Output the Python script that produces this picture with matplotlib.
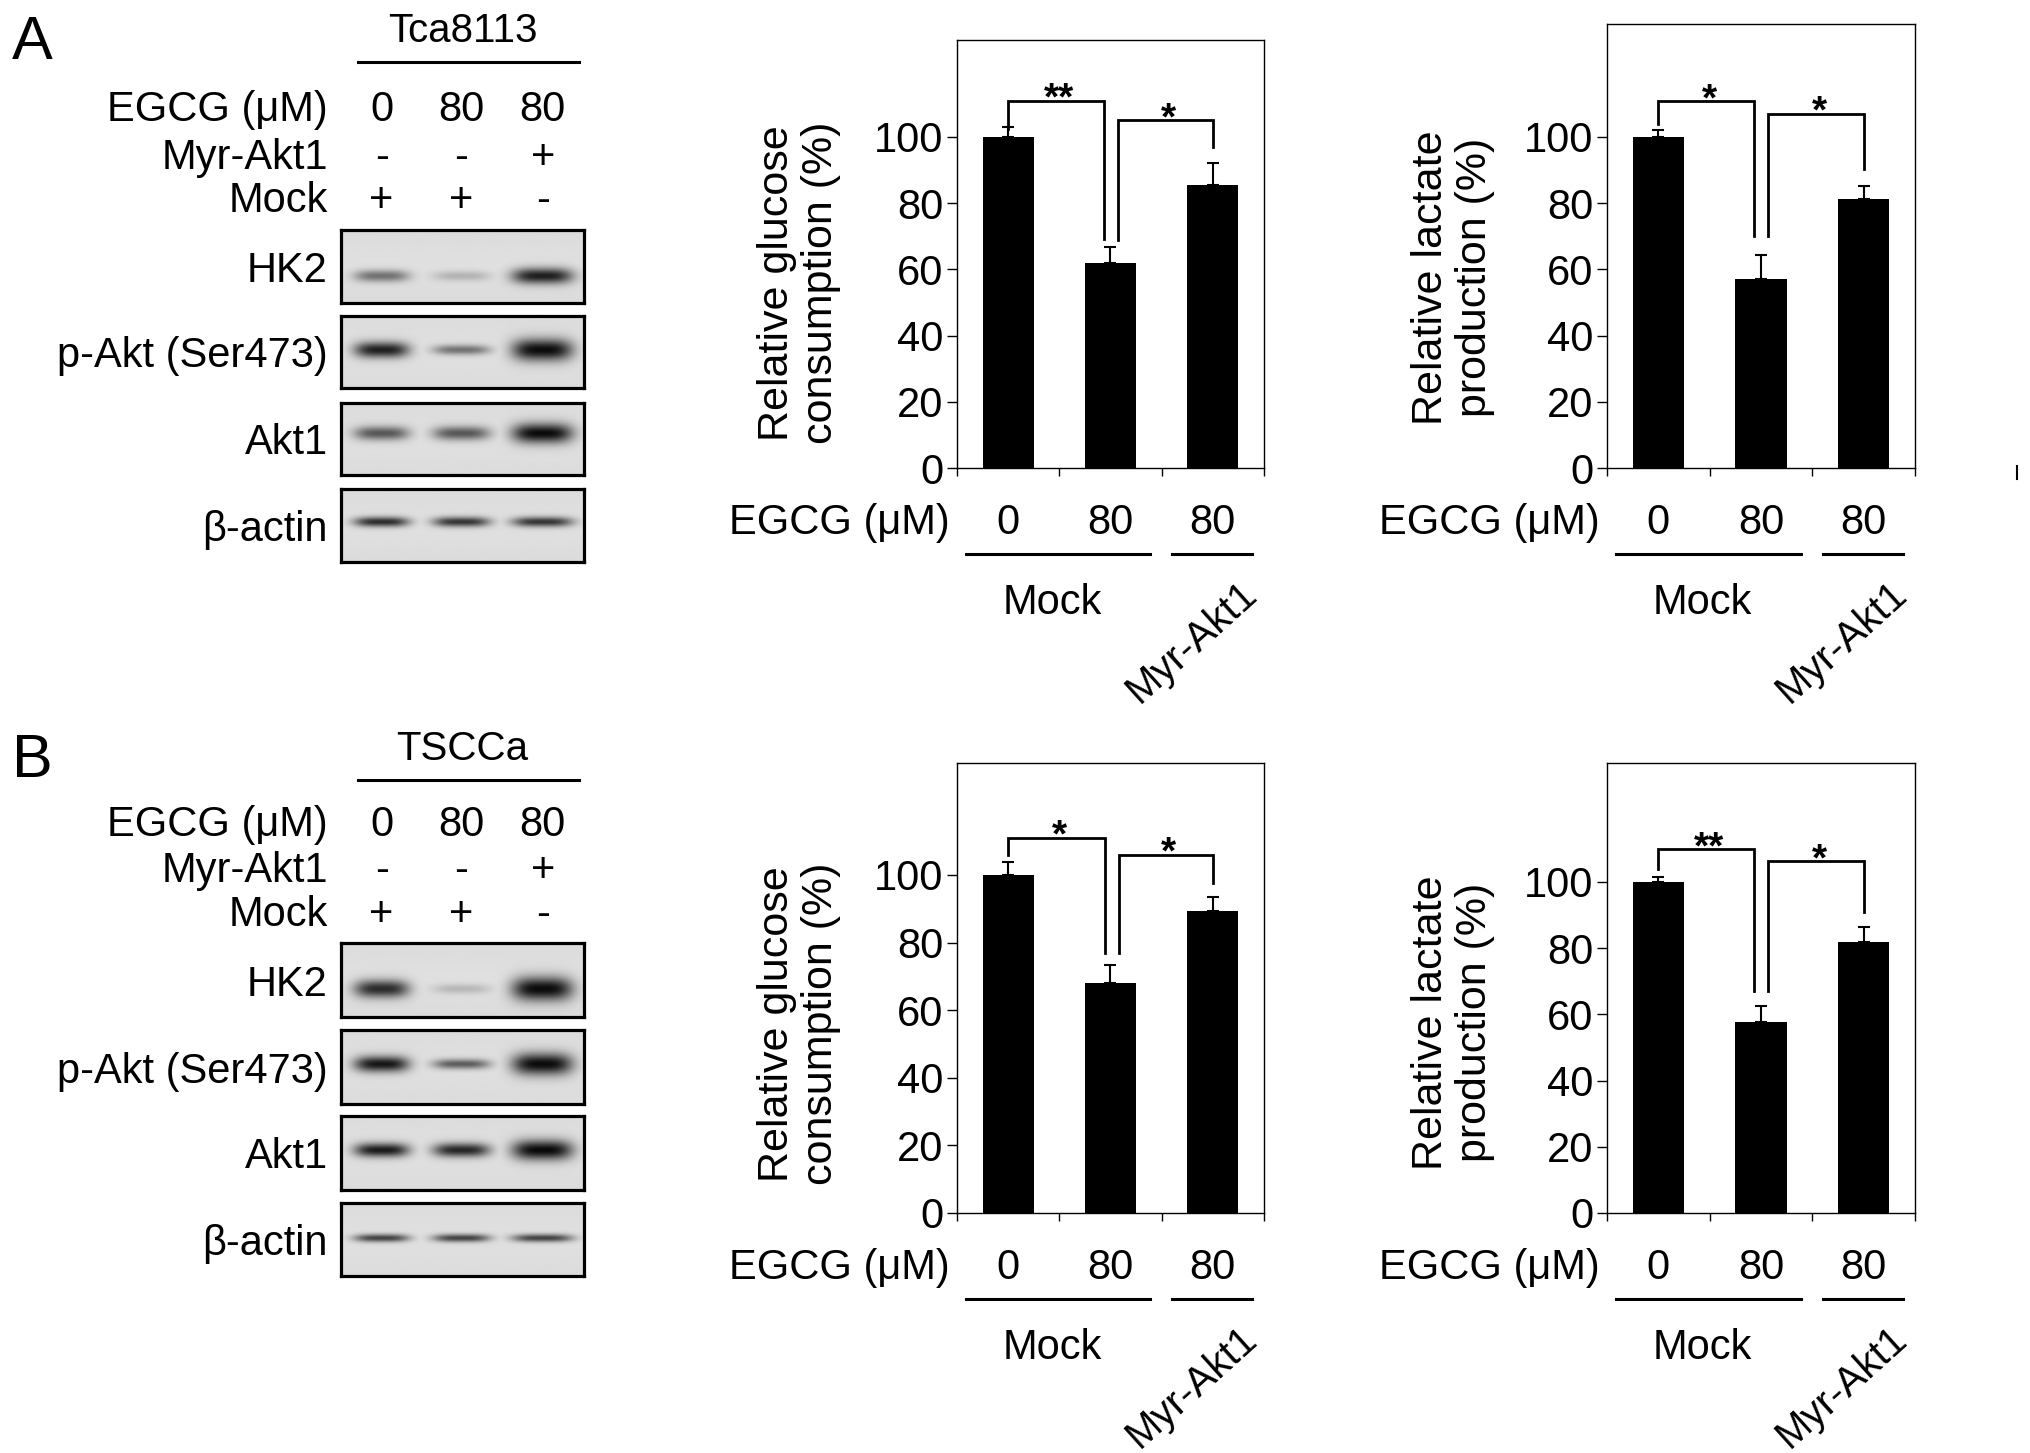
import numpy as np
import matplotlib
matplotlib.use("Agg")
import matplotlib.pyplot as plt
from matplotlib import transforms
from matplotlib.lines import Line2D

plt.rcParams['font.family'] = ['Liberation Sans', 'DejaVu Sans']
plt.rcParams['mathtext.default'] = 'regular'

W, H = 2031, 1453
fig = plt.figure(figsize=(W / 100, H / 100), dpi=100)
FS = 30

# ---------------- data ----------------
egcg_labels = ["0", "80", "80"]
group_labels = ["Mock", "Myr-Akt1"]
myr_row = ["-", "-", "+"]
mock_row = ["+", "+", "-"]
proteins = ["HK2", "p-Akt (Ser473)", "Akt1", "β-actin"]

glucose_A = [100.0, 62.0, 85.5]
glucose_A_err = [2.9, 4.8, 6.6]
lactate_A = [100.0, 57.2, 81.2]
lactate_A_err = [2.1, 7.1, 4.0]
glucose_B = [100.0, 67.9, 89.3]
glucose_B_err = [3.7, 5.5, 4.1]
lactate_B = [100.0, 57.7, 82.0]
lactate_B_err = [1.6, 4.9, 4.4]

# significance brackets: (x_left, x_right, y_top, y_left_end, y_right_end, label)
sig_glucose_A = [(0.0, 0.94, 111.0, 102.5, 69.3, "**"), (1.07, 2.0, 105.0, 69.0, 97.0, "*")]
sig_lactate_A = [(0.0, 0.93, 110.8, 104.0, 70.0, "*"), (1.07, 2.0, 107.0, 70.0, 90.3, "*")]
sig_glucose_B = [(0.0, 0.95, 111.0, 105.8, 77.0, "*"), (1.08, 2.0, 106.0, 77.0, 97.7, "*")]
sig_lactate_B = [(0.0, 0.93, 109.9, 104.0, 67.0, "**"), (1.07, 2.0, 106.2, 67.0, 91.0, "*")]

# western blot band intensities (0 = none, 1 = saturated), lanes 1..3
bands_A = {
    "HK2": [0.5, 0.2, 0.88],
    "p-Akt (Ser473)": [0.88, 0.5, 0.97],
    "Akt1": [0.62, 0.62, 0.97],
    "β-actin": [0.82, 0.78, 0.78],
}
bands_B = {
    "HK2": [0.82, 0.18, 0.97],
    "p-Akt (Ser473)": [0.92, 0.6, 0.97],
    "Akt1": [0.9, 0.85, 0.98],
    "β-actin": [0.72, 0.72, 0.72],
}
band_thick_A = {"HK2": [6, 5, 8], "p-Akt (Ser473)": [8, 5, 11], "Akt1": [7, 7, 10], "β-actin": [5, 5, 5]}
band_thick_B = {"HK2": [9, 5, 12], "p-Akt (Ser473)": [8, 5, 11], "Akt1": [7, 7, 10], "β-actin": [4, 4, 4]}
band_row_A = {"HK2": 0.63, "p-Akt (Ser473)": 0.47, "Akt1": 0.42, "β-actin": 0.45}
band_row_B = {"HK2": 0.62, "p-Akt (Ser473)": 0.46, "Akt1": 0.46, "β-actin": 0.48}
lane_centers = [0.167, 0.496, 0.83]
lane_halfwidth = [0.113, 0.117, 0.125]


def fy(y):
    return 1 - y / H


def off(dx_px, dy_px, base):
    return base + transforms.ScaledTranslation(dx_px / 100, -dy_px / 100, fig.dpi_scale_trans)


# ---------------- bar charts ----------------
def chart(left, right, y0, ppu, ytop, vals, errs, ylabel, sigs, ylab_y, ylab_dx):
    top = y0 - ytop * ppu
    ax = fig.add_axes([left / W, 1 - y0 / H, (right - left) / W, (y0 - top) / H])
    x = np.arange(len(vals))
    ax.bar(x, vals, width=0.5, color="black", zorder=2)
    ax.errorbar(x, vals, yerr=[np.zeros(len(vals)), errs], fmt="none", ecolor="black",
                elinewidth=1.5, capsize=4, capthick=1.5, zorder=3)
    ax.set_xlim(-0.5, 2.5)
    ax.set_ylim(0, ytop)
    ax.set_yticks(range(0, 101, 20))
    ax.set_xticks([-0.5, 0.5, 1.5, 2.5])
    ax.set_xticklabels([])
    ax.tick_params(axis="y", direction="out", length=7, width=1.0, labelsize=FS, pad=3)
    ax.tick_params(axis="x", direction="out", length=6, width=1.0)
    for s in ax.spines.values():
        s.set_linewidth(1.0)

    bt = transforms.blended_transform_factory(ax.transData, ax.transAxes)
    for i, lab in enumerate(egcg_labels):
        ax.text(i, 0, lab, transform=off(0, 66, bt), ha="center", va="baseline", fontsize=FS)
    ax.text(0, 0, "EGCG (μM)", transform=off(-7, 66, ax.transAxes), ha="right",
            va="baseline", fontsize=FS)
    ax.add_line(Line2D([-0.41, 1.39], [0, 0], transform=off(0, 86, bt), color="black",
                       lw=2.2, clip_on=False))
    ax.add_line(Line2D([1.6, 2.38], [0, 0], transform=off(0, 86, bt), color="black",
                       lw=2.2, clip_on=False))
    ax.text(0.43, 0, group_labels[0], transform=off(0, 146, bt), ha="center",
            va="baseline", fontsize=FS)
    ax.text(2.25, 0, group_labels[1], transform=off(0, 106, bt), ha="right", va="top",
            rotation=42, rotation_mode="anchor", fontsize=29)

    lt = transforms.blended_transform_factory(ax.transAxes, ax.transData)
    ax.text(0, ylab_y, ylabel, transform=off(ylab_dx, 0, lt), rotation=90, ha="center",
            va="center", multialignment="center", fontsize=31, linespacing=1.15)

    for xl, xr, yt, yl, yr, lab in sigs:
        ax.plot([xl, xl, xr, xr], [yl, yt, yt, yr], color="black", lw=2.0, clip_on=False,
                solid_joinstyle="miter", zorder=4)
        ax.text((xl + xr) / 2 + 0.03, yt - 2.7, lab, ha="center", va="baseline",
                fontsize=28, fontweight="bold")
    return ax


chart(957, 1264, 468, 3.31, 129.2, glucose_A, glucose_A_err,
      "Relative glucose\nconsumption (%)", sig_glucose_A, 56, -158)
chart(1607, 1915, 468, 3.31, 134.1, lactate_A, lactate_A_err,
      "Relative lactate\nproduction (%)", sig_lactate_A, 57.5, -154)
chart(957, 1264, 1213, 3.38, 133.0, glucose_B, glucose_B_err,
      "Relative glucose\nconsumption (%)", sig_glucose_B, 56, -158)
chart(1607, 1915, 1213, 3.31, 136.0, lactate_B, lactate_B_err,
      "Relative lactate\nproduction (%)", sig_lactate_B, 57.5, -154)

# small stray mark at right edge of the original figure
fig.add_artist(Line2D([2017 / W, 2017 / W], [fy(466), fy(479)], color="black", lw=1.5))


# ---------------- western blots ----------------
def blot_panel(letter, cell, y_letter, y_cell, y_line, y_rows, boxes, bands, thick, rows):
    bx0, bx1 = 341, 584
    fig.text(12 / W, fy(y_letter), letter, fontsize=44, va="baseline", ha="left")
    axes = []
    for (t, b), prot in zip(boxes, proteins):
        ax = fig.add_axes([bx0 / W, 1 - b / H, (bx1 - bx0) / W, (b - t) / H])
        nx, ny = 400, 120
        xs = np.linspace(0, 1, nx)[None, :]
        ys = np.linspace(0, 1, ny)[:, None]
        hpx = b - t
        dark = np.zeros((ny, nx))
        for k in range(3):
            wy = thick[prot][k] / hpx
            prof = np.exp(-np.abs((xs - lane_centers[k]) / lane_halfwidth[k]) ** 3.5) * \
                np.exp(-((ys - rows[prot]) / wy) ** 2)
            dark = np.maximum(dark, bands[prot][k] * prof)
        img = 0.86 * (1 - dark) + 0.02 * (1 - np.abs(ys - 0.5) * 2)
        ax.imshow(img, cmap="gray", vmin=0, vmax=1, aspect="auto", extent=[0, 1, 1, 0],
                  interpolation="bilinear")
        ax.set_xlim(0, 1)
        ax.set_ylim(1, 0)
        ax.set_xticks([])
        ax.set_yticks([])
        for s in ax.spines.values():
            s.set_linewidth(2.3)
        ax.text(0, 0.5, prot, transform=off(-13, 0, ax.transAxes), ha="right",
                va="center_baseline", fontsize=FS)
        axes.append(ax)
    top_ax = axes[0]
    ht = transforms.blended_transform_factory(top_ax.transAxes, fig.transFigure)
    fig.text(0.5, fy(y_cell), cell, transform=ht, ha="center", va="baseline", fontsize=29)
    fig.add_artist(Line2D([(358 - bx0) / (bx1 - bx0), (579 - bx0) / (bx1 - bx0)],
                          [fy(y_line), fy(y_line)], transform=ht, color="black", lw=2.2))
    row_titles = ["EGCG (μM)", "Myr-Akt1", "Mock"]
    row_vals = [egcg_labels, myr_row, mock_row]
    for title, vals, yb in zip(row_titles, row_vals, y_rows):
        fig.text(328 / W, fy(yb), title, ha="right", va="baseline", fontsize=FS)
        for k, v in enumerate(vals):
            fig.text(lane_centers[k], fy(yb), v, transform=ht, ha="center", va="baseline",
                     fontsize=FS)


blot_panel("A", "Tca8113", 59, 42, 62, [121, 169, 212],
           [(230, 303), (316, 388), (403, 475), (489, 562)], bands_A, band_thick_A, band_row_A)
blot_panel("B", "TSCCa", 777, 760, 780, [836, 882, 926],
           [(943, 1017), (1030, 1104), (1116, 1190), (1203, 1276)], bands_B, band_thick_B,
           band_row_B)

fig.savefig("out.png", dpi=100, facecolor="white")
